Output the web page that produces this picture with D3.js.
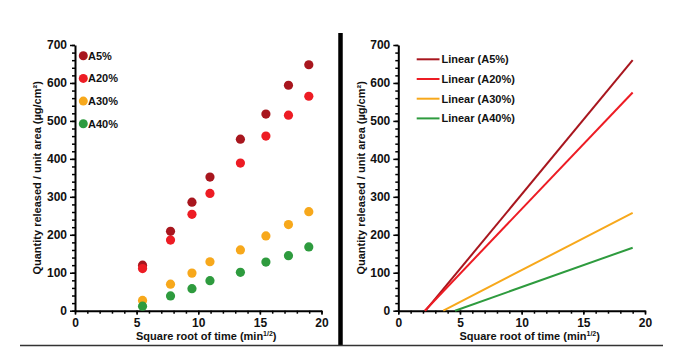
<!DOCTYPE html>
<html><head><meta charset="utf-8">
<script src="https://cdn.jsdelivr.net/npm/d3@7"></script>
<style>body{margin:0;background:#fff;}svg{display:block;font-family:"Liberation Sans",Arial,sans-serif;font-weight:bold;}</style>
</head><body><svg id="c" width="680" height="357"></svg>
<script>
const series = ["A5%", "A20%", "A30%", "A40%"];
const colors = ["#A8161E", "#ED1C24", "#F7A81B", "#2E9B3E"];
const sqrtTime = [5.48, 7.75, 9.49, 10.95, 13.42, 15.49, 17.32, 18.97];
const valuesA5 = [120, 209, 286, 352, 452, 518, 594, 648];
const valuesA20 = [111, 186, 254, 309, 389, 460, 515, 565];
const valuesA30 = [27, 70, 99, 129, 160, 197, 227, 261];
const valuesA40 = [12, 39, 58, 79, 101, 128, 145, 168];
const allValues = [valuesA5, valuesA20, valuesA30, valuesA40];
// linear trend lines: [x at y=0, x end, y end]
const lineStartX = [2.2, 2.15, 3.65, 4.6];
const lineEndX = [19, 19, 19, 19];
const lineEndY = [660, 575, 258, 166];
const xTicks = [0, 5, 10, 15, 20];
const yTicks = [0, 100, 200, 300, 400, 500, 600, 700];
const yTitle = "Quantity released / unit area (µg/cm²)";

const svg = d3.select("#c");

function panel(x0, x1) {
  const g = svg.append("g");
  const x = d3.scaleLinear().domain([0, 20]).range([x0, x1]);
  const y = d3.scaleLinear().domain([0, 700]).range([310.7, 45]);
  // minor ticks
  g.append("g").attr("transform", `translate(0,${y(0)})`)
    .call(d3.axisBottom(x).tickValues(d3.range(0, 21, 1)).tickSize(3).tickFormat(""))
    .call(s => s.select(".domain").remove())
    .call(s => s.selectAll("line").attr("stroke", "#000").attr("stroke-width", 1.5));
  g.append("g").attr("transform", `translate(${x0},0)`)
    .call(d3.axisLeft(y).tickValues(d3.range(0, 701, 20)).tickSize(3).tickFormat(""))
    .call(s => s.select(".domain").remove())
    .call(s => s.selectAll("line").attr("stroke", "#000").attr("stroke-width", 1.5));
  const xa = g.append("g").attr("transform", `translate(0,${y(0)})`)
    .call(d3.axisBottom(x).tickValues(xTicks).tickSize(4).tickSizeOuter(0).tickPadding(4));
  const ya = g.append("g").attr("transform", `translate(${x0},0)`)
    .call(d3.axisLeft(y).tickValues(yTicks).tickSize(5).tickSizeOuter(0).tickPadding(3));
  [xa, ya].forEach(a => {
    a.select(".domain").attr("stroke", "#000").attr("stroke-width", 2);
    a.selectAll("line").attr("stroke", "#000").attr("stroke-width", 1.5);
    a.selectAll("text").attr("fill", "#111").style("font-size", "12px").style("font-weight", "bold")
      .style("font-family", '"Liberation Sans",Arial,sans-serif');
  });
  const t = g.append("text").attr("x", (x0 + x1) / 2 + 8).attr("y", 340)
    .attr("text-anchor", "middle").attr("fill", "#111").style("font-size", "11px");
  t.append("tspan").text("Square root of time (min");
  t.append("tspan").text("1/2").attr("dy", -4).style("font-size", "7px");
  t.append("tspan").text(")").attr("dy", 4);
  return {g, x, y};
}

const L = panel(75, 321.5);
const R = panel(398.3, 645);

// y titles
[[37, L], [361, R]].forEach(([cx, p]) => {
  svg.append("text").attr("transform", `translate(${cx},${p.y(350)}) rotate(-90)`)
    .attr("text-anchor", "middle").attr("dy", "0.35em").attr("fill", "#111")
    .style("font-size", "11px").text(yTitle);
});

// scatter points
series.forEach((s, i) => {
  L.g.append("g").selectAll("circle").data(sqrtTime.map((t, j) => [t, allValues[i][j]]))
    .join("circle").attr("cx", d => L.x(d[0])).attr("cy", d => L.y(d[1])).attr("r", 4.6)
    .attr("fill", colors[i]);
});

// trend lines
series.forEach((s, i) => {
  R.g.append("line")
    .attr("x1", R.x(lineStartX[i])).attr("y1", R.y(0))
    .attr("x2", R.x(lineEndX[i])).attr("y2", R.y(lineEndY[i]))
    .attr("stroke", colors[i]).attr("stroke-width", 2);
});

// legends
series.forEach((s, i) => {
  const yy = 55.7 + i * 22.7;
  svg.append("circle").attr("cx", 83.3).attr("cy", yy).attr("r", 4.5).attr("fill", colors[i]);
  svg.append("text").attr("x", 88).attr("y", yy).attr("dy", "0.35em").attr("fill", "#111")
    .style("font-size", "11px").text(s);
  const ly = 59.3 + i * 19.7;
  svg.append("line").attr("x1", 416.7).attr("x2", 439.5).attr("y1", ly).attr("y2", ly)
    .attr("stroke", colors[i]).attr("stroke-width", 2);
  svg.append("text").attr("x", 441.5).attr("y", ly).attr("dy", "0.35em").attr("fill", "#111")
    .style("font-size", "11px").text(`Linear (${s})`);
});

// frame lines
svg.append("line").attr("x1", 340.5).attr("x2", 340.5).attr("y1", 33).attr("y2", 345)
  .attr("stroke", "#000").attr("stroke-width", 4.5);
svg.append("line").attr("x1", 20).attr("x2", 663).attr("y1", 345.5).attr("y2", 345.5)
  .attr("stroke", "#333").attr("stroke-width", 1.5);
</script></body></html>
